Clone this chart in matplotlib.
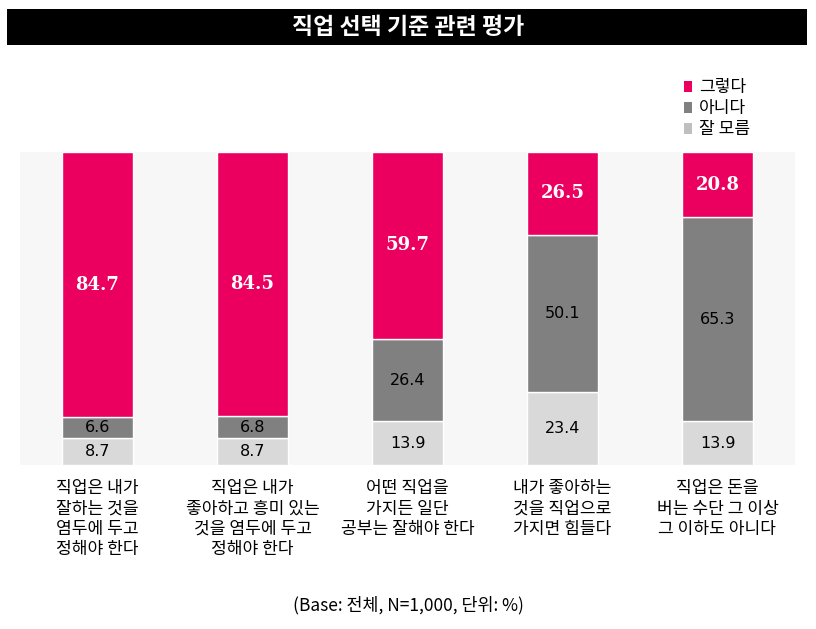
import numpy as np
import matplotlib.pyplot as plt
from matplotlib.patches import Rectangle

plt.rcParams['font.family'] = ['Noto Sans CJK KR', 'DejaVu Sans']

# data
categories = ['직업은 내가\n잘하는 것을\n염두에 두고\n정해야 한다',
              '직업은 내가\n좋아하고 흥미 있는\n것을 염두에 두고\n정해야 한다',
              '어떤 직업을\n가지든 일단\n공부는 잘해야 한다',
              '내가 좋아하는\n것을 직업으로\n가지면 힘들다',
              '직업은 돈을\n버는 수단 그 이상\n그 이하도 아니다']
yes_vals = [84.7, 84.5, 59.7, 26.5, 20.8]
no_vals = [6.6, 6.8, 26.4, 50.1, 65.3]
dk_vals = [8.7, 8.7, 13.9, 23.4, 13.9]
series_names = ['그렇다', '아니다', '잘 모름']

C_YES = '#EB0060'
C_NO = '#808080'
C_DK = '#D9D9D9'
C_DK_LEG = '#BFBFBF'

W, H = 816, 629
fig = plt.figure(figsize=(W / 100, H / 100), dpi=100)

# title bar
fig.patches.append(Rectangle((7 / W, 1 - 45 / H), 800 / W, 36 / H,
                             transform=fig.transFigure, facecolor='black',
                             edgecolor='none'))
fig.text(0.5, 1 - 27 / H, '직업 선택 기준 관련 평가', color='white',
         fontsize=16.5, fontweight='bold', ha='center', va='center')

ax = fig.add_axes([20 / W, 1 - 465 / H, 775 / W, 313 / H])
ax.set_facecolor('#F7F7F7')
for s in ax.spines.values():
    s.set_visible(False)
ax.set_xticks([])
ax.set_yticks([])

x = np.arange(len(categories))
bw = 0.46
yes = np.array(yes_vals)
no = np.array(no_vals)
dk = np.array(dk_vals)
ax.bar(x, dk, bw, color=C_DK, edgecolor='white', linewidth=1)
ax.bar(x, no, bw, bottom=dk, color=C_NO, edgecolor='white', linewidth=1)
ax.bar(x, yes, bw, bottom=dk + no, color=C_YES, edgecolor='white', linewidth=1)
ax.set_xlim(-0.5, len(categories) - 0.5)
ax.set_ylim(0, 100)

for i in range(len(categories)):
    ax.text(x[i], dk[i] / 2, f'{dk[i]:.1f}', ha='center', va='center',
            fontsize=11.5, color='black', family='DejaVu Sans')
    ax.text(x[i], dk[i] + no[i] / 2, f'{no[i]:.1f}', ha='center', va='center',
            fontsize=11.5, color='black', family='DejaVu Sans')
    ax.text(x[i], dk[i] + no[i] + yes[i] / 2, f'{yes[i]:.1f}', ha='center',
            va='center', fontsize=13, color='white', fontweight='bold',
            family='DejaVu Serif')
    ax.text(x[i], -4.6, categories[i], ha='center', va='top', fontsize=12.3,
            linespacing=1.16, color='black')

# legend
leg_cols = [C_YES, C_NO, C_DK_LEG]
for j, (name, c) in enumerate(zip(series_names, leg_cols)):
    yy = 1 - (87 + j * 21) / H
    fig.patches.append(Rectangle((684 / W, yy - 5 / H), 8 / W, 11 / H,
                                 transform=fig.transFigure, facecolor=c,
                                 edgecolor='none'))
    fig.text(699 / W, yy, name, fontsize=12.3, ha='left', va='center')

fig.text(408 / W, 1 - 605 / H, '(Base: 전체, N=1,000, 단위: %)', fontsize=12.5,
         ha='center', va='center')

fig.savefig('out.png', dpi=100, facecolor='white')
